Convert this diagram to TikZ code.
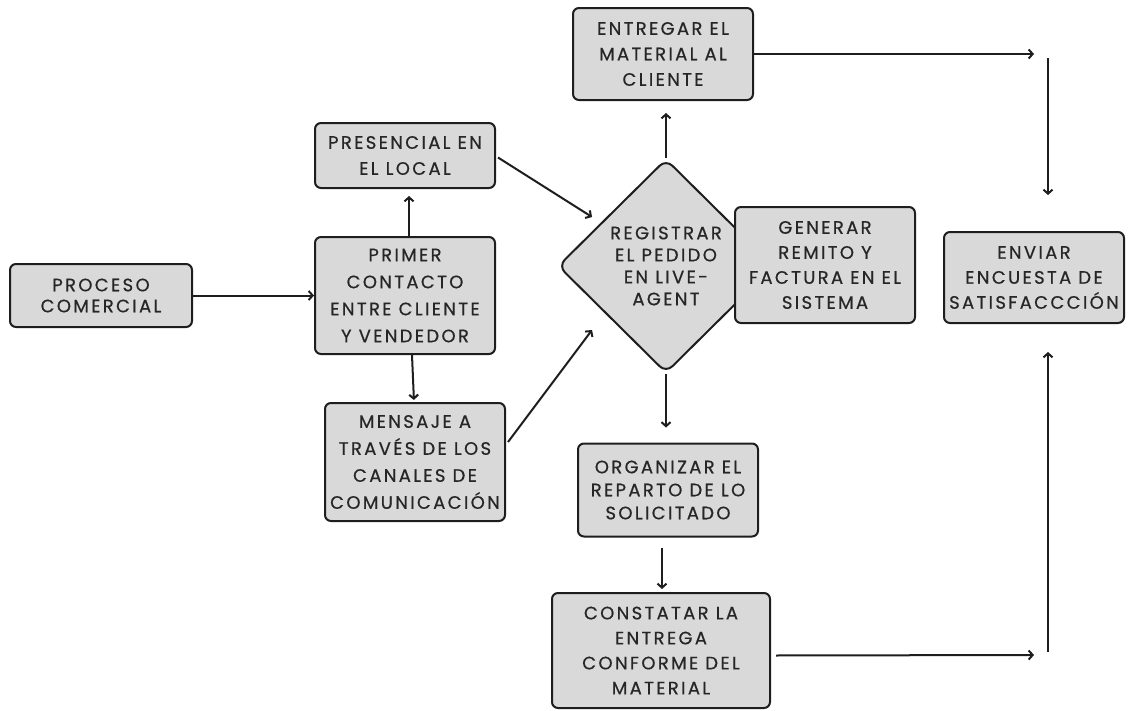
\documentclass[tikz,border=0pt]{standalone}
\usepackage{fontspec}
\newfontfamily\boxfont[LetterSpace=13,FakeBold=0.6]{Poppins}
\usetikzlibrary{arrows.meta,shapes.geometric}
\definecolor{boxfill}{HTML}{D9D9D9}
\definecolor{boxline}{HTML}{1E1E1E}
\definecolor{txt}{HTML}{262626}
\tikzset{
  lines/.style={font=\boxfont\fontsize{18}{#1}\selectfont},
  stepbox/.style={draw=boxline, fill=boxfill, line width=2pt, rounded corners=6pt,
    align=center, text=txt, inner sep=0pt, lines=25},
  decbox/.style={diamond, draw=boxline, fill=boxfill, line width=2pt, rounded corners=9pt,
    align=center, text=txt, inner sep=0pt, lines=22},
  arr/.style={draw=boxline, line width=2pt, -{Straight Barb[length=4pt,width=9pt,line width=2pt]}}
}
\begin{document}
\begin{tikzpicture}[x=1pt,y=-1pt]
\useasboundingbox (0,0) rectangle (1134,710);
\node[decbox, minimum width=216pt, minimum height=214pt] (diam) at (666,266) {REGISTRAR\\EL PEDIDO\\EN LIVE-\\AGENT};
\node[stepbox, lines=21, minimum width=182pt, minimum height=63pt] (proc) at (101,295.5) {PROCESO\\COMERCIAL};
\node[stepbox, lines=27, minimum width=180pt, minimum height=117pt] (primer) at (405,295.5) {PRIMER\\CONTACTO\\ENTRE CLIENTE\\Y VENDEDOR};
\node[stepbox, lines=26, minimum width=180pt, minimum height=65pt] (pres) at (405,155.5) {PRESENCIAL EN\\EL LOCAL};
\node[stepbox, lines=27, minimum width=180pt, minimum height=118pt] (mens) at (415,462) {MENSAJE A\\TRAVÉS DE LOS\\CANALES DE\\COMUNICACIÓN};
\node[stepbox, lines=25, minimum width=180pt, minimum height=116pt] (gen) at (825,265) {GENERAR\\REMITO Y\\FACTURA EN EL\\SISTEMA};
\node[stepbox, lines=25.5, minimum width=180pt, minimum height=92pt] (ent) at (663,54) {ENTREGAR EL\\MATERIAL AL\\CLIENTE};
\node[stepbox, lines=23, minimum width=180pt, minimum height=93pt] (org) at (668,490) {ORGANIZAR EL\\REPARTO DE LO\\SOLICITADO};
\node[stepbox, lines=25, minimum width=218pt, minimum height=115pt] (cons) at (661,650.5) {CONSTATAR LA\\ENTREGA\\CONFORME DEL\\MATERIAL};
\node[stepbox, lines=25, minimum width=180pt, minimum height=91pt] (env) at (1034,277.5) {ENVIAR\\ENCUESTA DE\\SATISFACCCIÓN};
\coordinate (tipA) at (592,217);
\coordinate (tipB) at (592,330);
\coordinate (r1) at (1034,54);
\coordinate (v1a) at (1048,58);
\coordinate (v1b) at (1048,195);
\coordinate (r2) at (1034,655);
\coordinate (v2a) at (1048,652);
\coordinate (v2b) at (1048,352);
\draw[arr] (proc.east) -- (proc.east -| primer.west);
\draw[arr, shorten >=7pt] ([xshift=4pt]primer.north) -- ([xshift=4pt]pres.south);
\draw[arr, shorten >=2pt] ([xshift=7pt]primer.south) -- ([xshift=-1pt]mens.north);
\draw[arr] ([shift={(2pt,-2pt)}]pres.east) -- (tipA);
\draw[arr] ([shift={(2pt,20pt)}]mens.east) -- (tipB);
\draw[arr, shorten >=12pt] (diam.north) -- (diam.north |- ent.south);
\draw[arr, shorten >=15pt] (diam.south) -- (diam.south |- org.north);
\draw[arr, shorten <=10pt, shorten >=3pt] ([xshift=1pt]org.south -| cons.north) -- ([xshift=1pt]cons.north);
\draw[arr] (ent.east) -- (r1);
\draw[arr] (v1a) -- (v1b);
\draw[arr, shorten <=5pt] ([yshift=-5pt]cons.east) -- (r2);
\draw[arr] (v2a) -- (v2b);
\end{tikzpicture}
\end{document}
